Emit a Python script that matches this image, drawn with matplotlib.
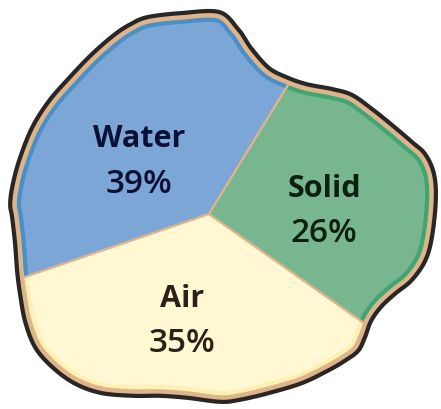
import numpy as np
import matplotlib
matplotlib.use("Agg")
import matplotlib.pyplot as plt
from matplotlib.patches import Polygon
from matplotlib.path import Path

# ---- data ----
labels = ["Water", "Air", "Solid"]
values = [39, 35, 26]
pct_labels = ["39%", "35%", "26%"]
fill_colors = ["#7ca6d6", "#fff8d2", "#78b690"]
rim_colors = ["#4a90c8", "#fff1b5", "#3da672"]
text_colors = ["#0b1035", "#2a2118", "#0c2010"]

W, H = 441, 409
TAN = "#deb48a"
BLACK = "#2a2626"

# irregular outline (image pixel coords, y down)
outline_px = [(220, 10), (240, 28), (253, 47), (270, 66), (287, 75), (307, 82),
              (333, 87), (353, 93), (373, 107), (393, 123), (413, 140), (427, 153),
              (436, 173), (438, 200), (434, 238), (427, 262), (413, 282), (397, 295),
              (383, 308), (373, 322), (367, 338), (360, 352), (347, 362), (330, 372),
              (303, 385), (270, 395), (240, 402), (220, 404), (187, 400), (160, 398),
              (133, 398), (100, 395), (73, 385), (50, 368), (33, 348), (23, 322),
              (18, 295), (15, 272), (13, 245), (10, 218), (8, 205), (10, 187),
              (17, 160), (30, 127), (47, 100), (67, 77), (90, 53), (113, 33),
              (130, 22), (147, 15), (180, 11)]
center_px = (209, 214)
label_pos_px = {"Water": (139, 147), "Air": (182, 307), "Solid": (324, 197)}
pct_pos_px = {"Water": (139, 193), "Air": (182, 352), "Solid": (324, 242)}


def catmull_closed(pts, n=24):
    P = np.array(pts, float)
    P[:, 1] = H - P[:, 1]
    N = len(P)
    t = np.linspace(0, 1, n, endpoint=False)[:, None]
    out = []
    for i in range(N):
        p0, p1, p2, p3 = P[i - 1], P[i], P[(i + 1) % N], P[(i + 2) % N]
        seg = 0.5 * ((2 * p1) + (-p0 + p2) * t + (2 * p0 - 5 * p1 + 4 * p2 - p3) * t ** 2
                     + (-p0 + 3 * p1 - 3 * p2 + p3) * t ** 3)
        out.append(seg)
    return np.vstack(out)


def offset(c, d):
    tg = np.roll(c, -1, 0) - np.roll(c, 1, 0)
    tg /= np.linalg.norm(tg, axis=1)[:, None]
    nrm = np.stack([-tg[:, 1], tg[:, 0]], 1)
    x, y = c[:, 0], c[:, 1]
    area = 0.5 * np.sum(x * np.roll(y, -1) - np.roll(x, -1) * y)
    sign = 1.0 if area > 0 else -1.0
    return c + sign * d * nrm


def closed_path(c):
    verts = np.vstack([c, c[:1]])
    codes = [Path.MOVETO] + [Path.LINETO] * (len(c) - 1) + [Path.CLOSEPOLY]
    return Path(verts, codes)


curve = catmull_closed(outline_px)
px2pt = 72 / 100

fig = plt.figure(figsize=(W / 100, H / 100), dpi=100)
ax = fig.add_axes([0, 0, 1, 1])

cx, cy = center_px[0], H - center_px[1]
layers = [(rim_colors, closed_path(offset(curve, 8.8)), 2),
          (fill_colors, closed_path(offset(curve, 13.0)), 3)]
for cols, clip, z in layers:
    wedges, _ = ax.pie(values, colors=cols, startangle=58.5, counterclock=True,
                       center=(cx, cy), radius=500, frame=True,
                       wedgeprops=dict(edgecolor=TAN, linewidth=2.2 * px2pt))
    for w in wedges:
        w.set_zorder(z)
        w.set_clip_on(True)
        w.set_clip_path(clip, ax.transData)

outer = Polygon(offset(curve, 2.2), closed=True, facecolor=TAN, edgecolor=BLACK,
                linewidth=4.2 * px2pt, joinstyle="round", zorder=1)
ax.add_patch(outer)

for lab, pct, col in zip(labels, pct_labels, text_colors):
    x, y = label_pos_px[lab]
    ax.text(x, H - y, lab, ha="center", va="baseline", fontsize=22,
            fontweight="bold", color=col, family=["Open Sans", "DejaVu Sans"], zorder=5)
    x, y = pct_pos_px[lab]
    ax.text(x, H - y, pct, ha="center", va="baseline", fontsize=24,
            fontweight="semibold", color=col, family=["Open Sans", "DejaVu Sans"], zorder=5)

ax.set_xlim(0, W)
ax.set_ylim(0, H)
ax.set_aspect("auto")
ax.axis("off")
fig.savefig("out.png", dpi=100)
